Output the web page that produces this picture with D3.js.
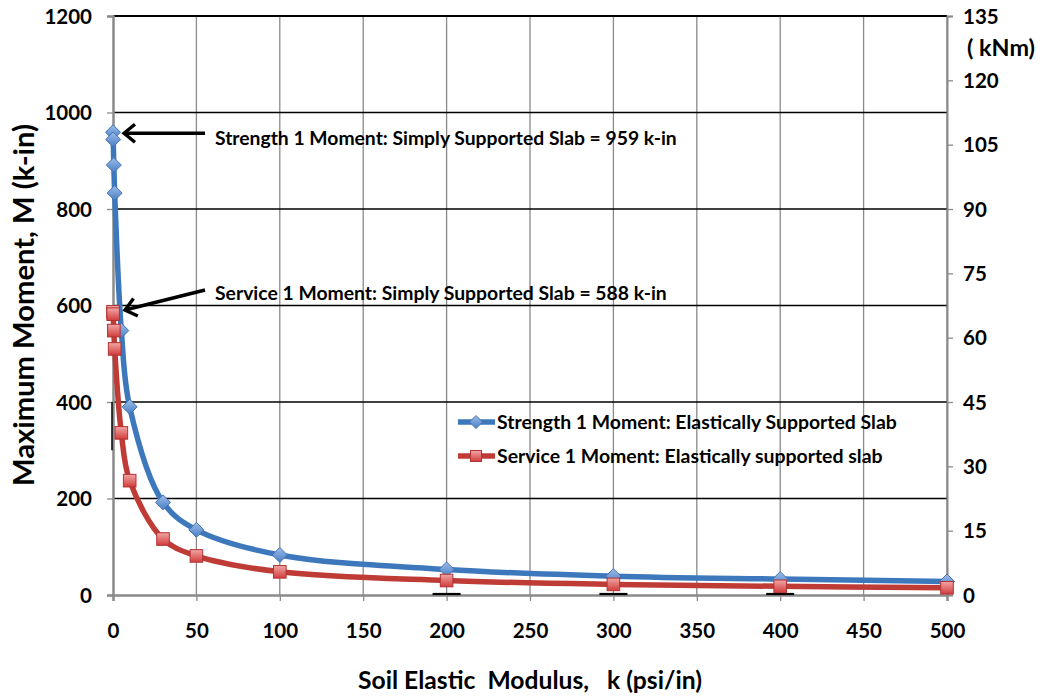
<!DOCTYPE html>
<html><head><meta charset="utf-8">
<script src="https://cdn.jsdelivr.net/npm/d3@7"></script>
<style>
html,body{margin:0;padding:0;background:#fff;}
text{font-family:Lato,"Open Sans",sans-serif;font-weight:700;fill:#000;}
</style></head>
<body><svg id="c" width="1042" height="696"></svg>
<script>
// ---- data ----
const kValues = [0.01, 0.1, 0.5, 1, 5, 10, 30, 50, 100, 200, 300, 400, 500];
const strengthMoment = [959, 944, 891, 833, 548, 390, 192, 135, 83, 53, 39, 33, 28];
const serviceMoment  = [587, 582, 548, 510, 336, 237, 116, 81, 48, 30, 22, 18, 15];
const xTicks = [0, 50, 100, 150, 200, 250, 300, 350, 400, 450, 500];
const yTicks = [0, 200, 400, 600, 800, 1000, 1200];
const y2Ticks = [0, 15, 30, 45, 60, 75, 90, 105, 120, 135];
const seriesNames = ["Strength 1 Moment: Elastically Supported Slab", "Service 1 Moment: Elastically supported slab"];
const annotationLabels = ["Strength 1 Moment: Simply Supported Slab = 959 k-in", "Service 1 Moment: Simply Supported Slab = 588 k-in"];
const annotationValues = [959, 588];
const errMarksK = [200, 300, 400];

const svg = d3.select("#c");
const L = 113, R = 947, T = 16, B = 595;
const x = d3.scaleLinear().domain([0, 500]).range([L, R]);
const y = d3.scaleLinear().domain([0, 1200]).range([B, T]);
const y2 = d3.scaleLinear().domain([0, 135]).range([B, T]);

function fit(sel, target){
  const w = sel.node().getComputedTextLength();
  const fs = parseFloat(sel.style("font-size"));
  sel.style("font-size", (fs*target/w).toFixed(2)+"px");
  return sel;
}

const defs = svg.append("defs");
const gb = defs.append("linearGradient").attr("id","gb").attr("x1",0).attr("y1",0).attr("x2",0).attr("y2",1);
gb.append("stop").attr("offset","0%").attr("stop-color","#9cbde9");
gb.append("stop").attr("offset","100%").attr("stop-color","#4a7ec4");
const gr = defs.append("linearGradient").attr("id","gr").attr("x1",0).attr("y1",0).attr("x2",0).attr("y2",1);
gr.append("stop").attr("offset","0%").attr("stop-color","#f2a6a6");
gr.append("stop").attr("offset","100%").attr("stop-color","#d23c3c");
const mk = defs.append("marker").attr("id","arr").attr("viewBox","0 0 24 24").attr("refX",21).attr("refY",12)
  .attr("markerWidth",24).attr("markerHeight",24).attr("markerUnits","userSpaceOnUse").attr("orient","auto");
mk.append("path").attr("d","M10,3 L21,12 L10,21").attr("fill","none").attr("stroke","#000").attr("stroke-width",3.4)
  .attr("stroke-linejoin","miter");

// vertical grid (gray)
svg.append("g").selectAll("line").data(xTicks.slice(1)).join("line")
  .attr("x1",d=>x(d)).attr("x2",d=>x(d)).attr("y1",T).attr("y2",B)
  .attr("stroke","#8a8a8a").attr("stroke-width",1.3);
// horizontal grid (black)
svg.append("g").selectAll("line").data(yTicks.slice(1)).join("line")
  .attr("x1",L).attr("x2",R).attr("y1",d=>y(d)).attr("y2",d=>y(d))
  .attr("stroke","#000").attr("stroke-width",1.3);
svg.append("line").attr("x1",L).attr("x2",R).attr("y1",T).attr("y2",T).attr("stroke","#000").attr("stroke-width",2);

// axes
const xAxis = svg.append("g").attr("transform",`translate(0,${B})`)
  .call(d3.axisBottom(x).tickValues(xTicks).tickFormat(d3.format("d")).tickSize(6).tickPadding(21));
const yAxis = svg.append("g").attr("transform",`translate(${L},0)`)
  .call(d3.axisLeft(y).tickValues(yTicks).tickFormat(d3.format("d")).tickSize(6).tickPadding(15));
const y2Axis = svg.append("g").attr("transform",`translate(${R},0)`)
  .call(d3.axisRight(y2).tickValues(y2Ticks).tickFormat(d3.format("d")).tickSize(6).tickPadding(10));
[xAxis,yAxis,y2Axis].forEach(g=>{
  g.select(".domain").attr("stroke","#8a8a8a").attr("stroke-width",2.5);
  g.selectAll(".tick line").attr("stroke","#8a8a8a").attr("stroke-width",1.3);
  g.selectAll(".tick text").style("font-size","20.5px").style("font-family","Lato, sans-serif").style("font-weight","700").attr("fill","#000");
});
y2Axis.select(".domain").attr("stroke-width",2);
xAxis.selectAll(".tick text").attr("dy","0.8em");
yAxis.selectAll(".tick text").attr("dy","0.35em");
y2Axis.selectAll(".tick text").attr("dy","0.35em");

// error-bar like marks
svg.append("g").selectAll("line").data(errMarksK).join("line")
  .attr("x1",d=>x(d)-14).attr("x2",d=>x(d)+14).attr("y1",B-1).attr("y2",B-1)
  .attr("stroke","#000").attr("stroke-width",2.2);
svg.append("line").attr("x1",L-1).attr("x2",L-1).attr("y1",y(400)).attr("y2",y(300))
  .attr("stroke","#000").attr("stroke-width",1.5);

// series lines
const line = d3.line().x(d=>x(d[0])).y(d=>y(d[1])).curve(d3.curveCatmullRom.alpha(0.5));
const blue = kValues.map((k,i)=>[k, strengthMoment[i]]);
const red = kValues.map((k,i)=>[k, serviceMoment[i]]);
svg.append("path").datum(blue).attr("d",line).attr("fill","none").attr("stroke","#3d78bd").attr("stroke-width",5.5);
svg.append("path").datum(red).attr("d",line).attr("fill","none").attr("stroke","#bf3b36").attr("stroke-width",5.5);

function diamond(g, cx, cy, s){
  g.append("path").attr("d",`M${cx},${cy-s} L${cx+s},${cy} L${cx},${cy+s} L${cx-s},${cy} Z`)
   .attr("fill","url(#gb)").attr("stroke","#4473b5").attr("stroke-width",1);
}
function square(g, cx, cy, s){
  g.append("rect").attr("x",cx-s).attr("y",cy-s).attr("width",2*s).attr("height",2*s)
   .attr("fill","url(#gr)").attr("stroke","#b23333").attr("stroke-width",1);
}
const mb = svg.append("g");
blue.forEach(d=>diamond(mb, x(d[0]), y(d[1]), 7.5));
const mr = svg.append("g");
red.forEach(d=>square(mr, x(d[0]), y(d[1]), 6.3));

// annotations
const annArr = [
  {x1:205, y1:y(annotationValues[0])+1, x2:124, y2:y(annotationValues[0])+1, tx:215, ty:138, w:462},
  {x1:205, y1:290, x2:125, y2:310, tx:215, ty:293, w:452}
];
annArr.forEach((a,i)=>{
  svg.append("line").attr("x1",a.x1).attr("y1",a.y1).attr("x2",a.x2).attr("y2",a.y2)
    .attr("stroke","#000").attr("stroke-width",3.4).attr("marker-end","url(#arr)");
  const t = svg.append("text").attr("x",a.tx).attr("y",a.ty).attr("dy","0.35em")
    .style("font-size","16px").text(annotationLabels[i]);
  fit(t, a.w);
});

// legend
const lg = svg.append("g");
const legY = [422, 456];
const legW = [400, 386];
const lc = ["#3d78bd","#bf3b36"];
legY.forEach((ly,i)=>{
  lg.append("line").attr("x1",458).attr("x2",495).attr("y1",ly).attr("y2",ly).attr("stroke",lc[i]).attr("stroke-width",5.5);
  if(i===0) diamond(lg, 476, ly, 6.5); else square(lg, 476, ly, 5.5);
  const t = lg.append("text").attr("x",497).attr("y",ly).attr("dy","0.35em").style("font-size","16px").text(seriesNames[i]);
  fit(t, legW[i]);
});

// axis titles
const yt = svg.append("text").attr("transform","translate(24,305) rotate(-90)").attr("text-anchor","middle").attr("dy","0.35em")
  .style("font-size","24px").text("Maximum Moment, M (k-in)");
fit(yt, 362);
const xt = svg.append("text").attr("x",530).attr("y",680).attr("text-anchor","middle").attr("dy","0.35em").attr("xml:space","preserve")
  .style("font-size","24px").text("Soil Elastic  Modulus,   k (psi/in)");
fit(xt, 344);
const ut = svg.append("text").attr("x",967).attr("y",48).attr("dy","0.35em").style("font-size","20px").text("( kNm)");
fit(ut, 68);
</script></body></html>
